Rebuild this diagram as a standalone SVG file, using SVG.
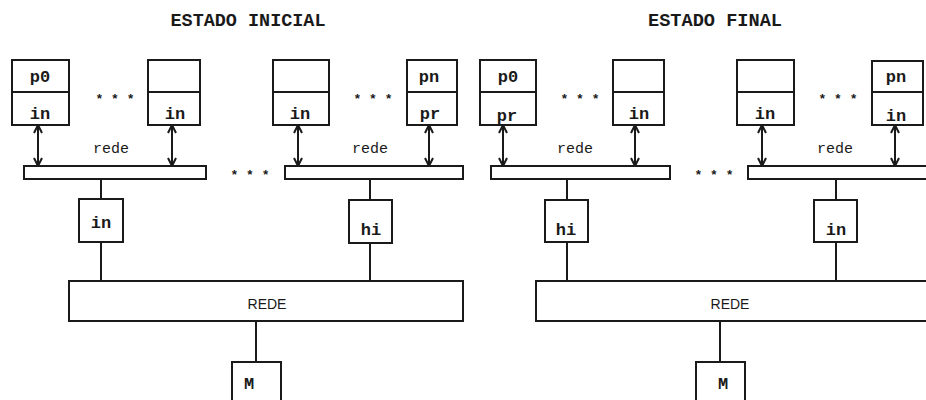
<svg xmlns="http://www.w3.org/2000/svg" width="926" height="400" viewBox="0 0 926 400">
<defs>
<marker id="ah" viewBox="0 0 10 10" refX="9" refY="5" markerWidth="10" markerHeight="10" markerUnits="userSpaceOnUse" orient="auto-start-reverse">
<polyline points="1,1 9,5 1,9" fill="none" stroke="#1a1a1a" stroke-width="2"/>
</marker>
<style>
rect{fill:#fff;stroke:#1a1a1a;stroke-width:2}
line{stroke:#1a1a1a;stroke-width:2}
.ar{marker-start:url(#ah);marker-end:url(#ah)}
text{font-family:"Liberation Mono","DejaVu Sans Mono",monospace;fill:#1a1a1a;text-anchor:middle}
.t{font-size:18px;font-weight:bold}
.b{font-size:17px;font-weight:bold}
.r{font-size:15px}
.R{font-size:14px;font-family:"Liberation Sans",Arial,sans-serif}
.d{font-size:13px;font-weight:bold}
</style>
</defs>
<rect x="0" y="0" width="926" height="400" style="fill:#fff;stroke:none"/>
<text class="t" x="248" y="26" textLength="155" lengthAdjust="spacingAndGlyphs">ESTADO INICIAL</text>
<text class="t" x="715" y="26" textLength="134" lengthAdjust="spacingAndGlyphs">ESTADO FINAL</text>

<g id="connectors">
<line class="ar" x1="38" y1="125" x2="38" y2="166"/>
<line class="ar" x1="172" y1="125" x2="172" y2="166"/>
<line class="ar" x1="298" y1="125" x2="298" y2="166"/>
<line class="ar" x1="429" y1="125" x2="429" y2="166"/>
<line class="ar" x1="503" y1="125" x2="503" y2="166"/>
<line class="ar" x1="635" y1="125" x2="635" y2="166"/>
<line class="ar" x1="762" y1="125" x2="762" y2="166"/>
<line class="ar" x1="895" y1="125" x2="895" y2="166"/>
<line x1="101" y1="179" x2="101" y2="281"/>
<line x1="370" y1="179" x2="370" y2="281"/>
<line x1="567" y1="179" x2="567" y2="281"/>
<line x1="836" y1="179" x2="836" y2="281"/>
<line x1="256" y1="321" x2="256" y2="362"/>
<line x1="720" y1="321" x2="720" y2="362"/>
</g>

<g id="pL1"><rect x="12" y="60" width="57" height="65"/><line x1="12" y1="92" x2="69" y2="92"/><text class="b" x="40" y="82">p0</text><text class="b" x="40" y="119">in</text></g>
<g id="pL2"><rect x="148" y="60" width="52" height="65"/><line x1="148" y1="92" x2="200" y2="92"/><text class="b" x="175" y="119">in</text></g>
<g id="pL3"><rect x="273" y="60" width="56" height="65"/><line x1="273" y1="92" x2="329" y2="92"/><text class="b" x="300" y="119">in</text></g>
<g id="pL4"><rect x="407" y="60" width="50" height="65"/><line x1="407" y1="92" x2="457" y2="92"/><text class="b" x="429" y="82">pn</text><text class="b" x="430" y="119">pr</text></g>
<g id="pR1"><rect x="480" y="60" width="56" height="65"/><line x1="480" y1="92" x2="536" y2="92"/><text class="b" x="508" y="82">p0</text><text class="b" x="507" y="121">pr</text></g>
<g id="pR2"><rect x="613" y="60" width="51" height="65"/><line x1="613" y1="92" x2="664" y2="92"/><text class="b" x="639" y="119">in</text></g>
<g id="pR3"><rect x="737" y="60" width="57" height="65"/><line x1="737" y1="92" x2="794" y2="92"/><text class="b" x="765" y="119">in</text></g>
<g id="pR4"><rect x="872" y="61" width="51" height="64"/><line x1="872" y1="92" x2="923" y2="92"/><text class="b" x="896" y="82">pn</text><text class="b" x="896" y="121">in</text></g>

<g id="dots">
<text class="d" x="115" y="103">* * *</text>
<text class="d" x="373" y="103">* * *</text>
<text class="d" x="250" y="179">* * *</text>
<text class="d" x="580" y="103">* * *</text>
<text class="d" x="838" y="103">* * *</text>
<text class="d" x="714" y="179">* * *</text>
</g>

<g id="redeL1"><rect x="24" y="166" width="182" height="13"/><text class="r" x="111" y="153">rede</text></g>
<g id="redeL2"><rect x="285" y="166" width="178" height="13"/><text class="r" x="370" y="153">rede</text></g>
<g id="redeR1"><rect x="491" y="166" width="179" height="13"/><text class="r" x="575" y="153">rede</text></g>
<g id="redeR2"><rect x="748" y="166" width="190" height="13"/><text class="r" x="835" y="153">rede</text></g>

<g id="gL1"><rect x="79" y="199" width="44" height="43"/><text class="b" x="101" y="228">in</text></g>
<g id="gL2"><rect x="349" y="200" width="43" height="43"/><text class="b" x="371" y="235">hi</text></g>
<g id="gR1"><rect x="545" y="200" width="43" height="42"/><text class="b" x="566" y="235">hi</text></g>
<g id="gR2"><rect x="814" y="200" width="43" height="42"/><text class="b" x="836" y="235">in</text></g>

<g id="REDEL"><rect x="69" y="281" width="394" height="40"/><text class="R" x="267" y="309">REDE</text></g>
<g id="REDER"><rect x="536" y="281" width="404" height="40"/><text class="R" x="730" y="309">REDE</text></g>

<g id="ML"><rect x="232" y="362" width="49" height="50"/><text class="b" x="249" y="389">M</text></g>
<g id="MR"><rect x="696" y="362" width="49" height="50"/><text class="b" x="723" y="389">M</text></g>
</svg>
